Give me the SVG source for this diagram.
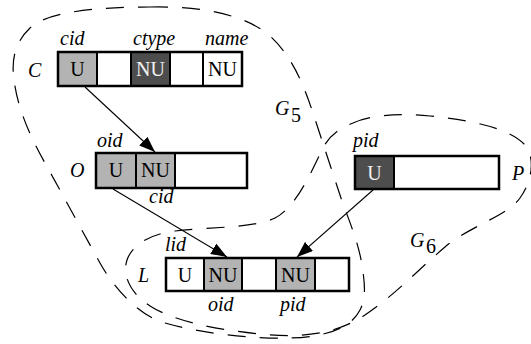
<svg xmlns="http://www.w3.org/2000/svg" width="531" height="344" viewBox="0 0 531 344">
<style>
text{font-family:'Liberation Serif','Tinos','DejaVu Serif',serif;font-size:20px;fill:#000}
.i{font-style:italic}
.c{text-anchor:middle}
.w{fill:#f0f0f0}
.box{fill:none;stroke:#000;stroke-width:2.5}
.div{stroke:#000;stroke-width:2}
.lg{fill:#b3b3b3}
.dk{fill:#4d4d4d}
.grp{fill:none;stroke:#000;stroke-width:1.2;stroke-dasharray:18,14}
.edge{fill:none;stroke:#000;stroke-width:1.1}
</style>
<defs>
<marker id="ah" markerUnits="userSpaceOnUse" markerWidth="18" markerHeight="12" refX="16" refY="6" orient="auto">
<path d="M0,0 L16,6 L0,12 Z" fill="#000"/>
</marker>
</defs>
<g id="groups">
<path id="G5" class="grp" d="M150,7 C200,6 245,14 270,36 C290,54 302,80 312,110 C317,125 330,165 340,195 C347,216 358,240 362,265 C366,290 365,300 360,310 C352,326 330,337 290,338 C250,339 200,333 165,323 C140,316 115,290 100,263 C85,236 60,190 45,163 C30,136 18,110 14,80 C12,65 12,45 30,28 C48,11 100,7 150,7 Z"/>
<path id="G6" class="grp" d="M353,123 C370,115 400,113 430,116 C470,120 510,128 525,145 C535,157 533,180 520,198 C507,216 470,226 445,247 C420,268 395,295 365,315 C335,335 300,338 260,334 C220,330 175,322 150,306 C130,293 122,275 127,260 C132,245 150,234 175,231 C210,227 255,228 275,218 C295,208 310,175 322,150 C329,135 340,128 353,123 Z"/>
<text class="i" x="275" y="115">G</text><text x="291" y="122">5</text>
<text class="i" x="410" y="247">G</text><text x="426" y="253">6</text>
</g>
<g id="C">
<rect class="lg" x="58" y="52" width="39" height="34"/>
<rect class="dk" x="131" y="52" width="39" height="34"/>
<line class="div" x1="97" y1="52" x2="97" y2="86"/>
<line class="div" x1="131" y1="52" x2="131" y2="86"/>
<line class="div" x1="170" y1="52" x2="170" y2="86"/>
<line class="div" x1="203" y1="52" x2="203" y2="86"/>
<rect class="box" x="58" y="52" width="184" height="34"/>
<text class="c" x="77.5" y="76">U</text>
<text class="c w" x="150.5" y="76">NU</text>
<text class="c" x="222.5" y="76">NU</text>
<text class="i" x="28" y="77">C</text>
<text class="i" x="60" y="45">cid</text>
<text class="i" x="133" y="45">ctype</text>
<text class="i" x="205" y="45">name</text>
</g>
<g id="O">
<rect class="lg" x="96" y="153" width="79" height="35"/>
<line class="div" x1="136" y1="153" x2="136" y2="188"/>
<line class="div" x1="175" y1="153" x2="175" y2="188"/>
<rect class="box" x="96" y="153" width="151" height="35"/>
<text class="c" x="116" y="177">U</text>
<text class="c" x="155.5" y="177">NU</text>
<text class="i" x="70" y="177">O</text>
<text class="i" x="97" y="147">oid</text>
<text class="i" x="149" y="203">cid</text>
</g>
<g id="L">
<rect class="lg" x="204" y="258" width="38" height="33"/>
<rect class="lg" x="276" y="258" width="39" height="33"/>
<line class="div" x1="204" y1="258" x2="204" y2="291"/>
<line class="div" x1="242" y1="258" x2="242" y2="291"/>
<line class="div" x1="276" y1="258" x2="276" y2="291"/>
<line class="div" x1="315" y1="258" x2="315" y2="291"/>
<rect class="box" x="166" y="258" width="183" height="33"/>
<text class="c" x="185" y="282">U</text>
<text class="c" x="223" y="282">NU</text>
<text class="c" x="295.5" y="282">NU</text>
<text class="i" x="138" y="282">L</text>
<text class="i" x="165" y="251">lid</text>
<text class="i" x="208" y="311">oid</text>
<text class="i" x="280" y="311">pid</text>
</g>
<g id="P">
<rect class="dk" x="355" y="156" width="39" height="33"/>
<line class="div" x1="394" y1="156" x2="394" y2="189"/>
<rect class="box" x="355" y="156" width="144" height="33"/>
<text class="c w" x="374.5" y="180">U</text>
<text class="i" x="512" y="180">P</text>
<text class="i" x="353" y="147">pid</text>
</g>
<g id="connectors">
<line class="edge" x1="85" y1="87" x2="155" y2="152" marker-end="url(#ah)"/>
<line class="edge" x1="113" y1="189" x2="227" y2="257" marker-end="url(#ah)"/>
<line class="edge" x1="373" y1="190" x2="297" y2="257" marker-end="url(#ah)"/>
</g>
</svg>
